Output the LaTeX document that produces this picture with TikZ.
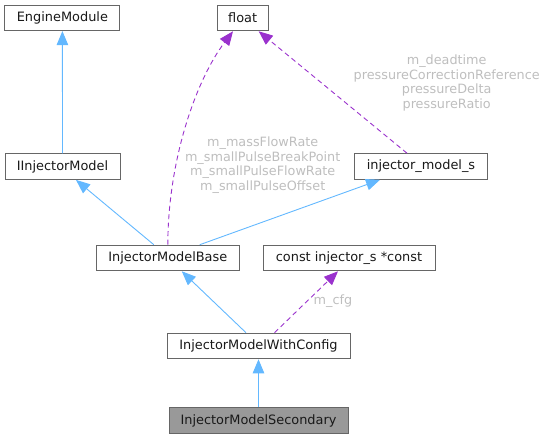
\documentclass[tikz,border=0pt]{standalone}
\usepackage{fontspec}
\setmainfont{DejaVu Sans}
\usetikzlibrary{calc,arrows.meta}
\definecolor{edgeblue}{HTML}{63B8FF}
\definecolor{edgepurple}{HTML}{9A32CD}
\definecolor{boxline}{HTML}{666666}
\definecolor{lblgrey}{HTML}{BEBEBE}
\definecolor{boxfill}{HTML}{999999}

\begin{document}
\begin{tikzpicture}[x=1pt,y=-1pt,
    cls/.style={draw=boxline,line width=1pt,fill=white,minimum height=25.6pt,inner sep=0pt,
      font=\fontsize{12.9}{14.5}\selectfont,text=black!90},
    inh/.style={edgeblue,line width=0.9pt,-{Triangle[length=14pt,width=11.5pt]}},
    use/.style={edgepurple,line width=0.9pt,dash pattern=on 5pt off 3.5pt,-{Triangle[length=14pt,width=11.5pt]}},
    lbl/.style={text=lblgrey,align=center,inner sep=0pt,font=\fontsize{12.8}{14.5}\selectfont}]
    \useasboundingbox (0,0) rectangle (547,439);
    \node[cls,minimum width=115pt] (EM) at (62.4,17.8) {EngineModule};
    \node[cls,minimum width=51pt] (F) at (242.7,18) {float};
    \node[cls,minimum width=115pt] (IIM) at (62.5,166.6) {IInjectorModel};
    \node[cls,minimum width=133pt] (IMS) at (421,166.5) {injector\_model\_s};
    \node[cls,minimum width=143pt] (B) at (167.8,258) {InjectorModelBase};
    \node[cls,minimum width=172pt] (CI) at (349,258) {const injector\_s *const};
    \node[cls,minimum width=183pt] (WC) at (258.5,346) {InjectorModelWithConfig};
    \node[cls,minimum width=179pt,fill=boxfill] (S) at (258.5,420.5) {InjectorModelSecondary};
    \draw[inh](IIM.north)--(EM.south);
    \draw[inh]([xshift=-14pt]B.north)--([xshift=13.5pt]IIM.south);
    \draw[inh]([xshift=32pt]B.north)--([xshift=-41pt]IMS.south);
    \draw[use](B.north) .. controls (168,160) and (196,80) .. ([xshift=-9.7pt]F.south);
    \draw[use]([xshift=-14pt]IMS.north)--([xshift=16pt]F.south);
    \draw[inh]([xshift=-12.5pt]WC.north)--([xshift=14pt]B.south);
    \draw[use]([xshift=16pt]WC.north)--([xshift=-11pt]CI.south);
    \draw[inh](S.north)--(WC.south);
    \node[lbl] (L1) at (262.7,165.3) {m\_massFlowRate\\m\_smallPulseBreakPoint\\m\_smallPulseFlowRate\\m\_smallPulseOffset};
    \node[lbl] (L2) at (446.7,82.8) {m\_deadtime\\pressureCorrectionReference\\pressureDelta\\pressureRatio};
    \node[lbl] (L3) at (333,300.7) {m\_cfg};
\end{tikzpicture}
\end{document}
